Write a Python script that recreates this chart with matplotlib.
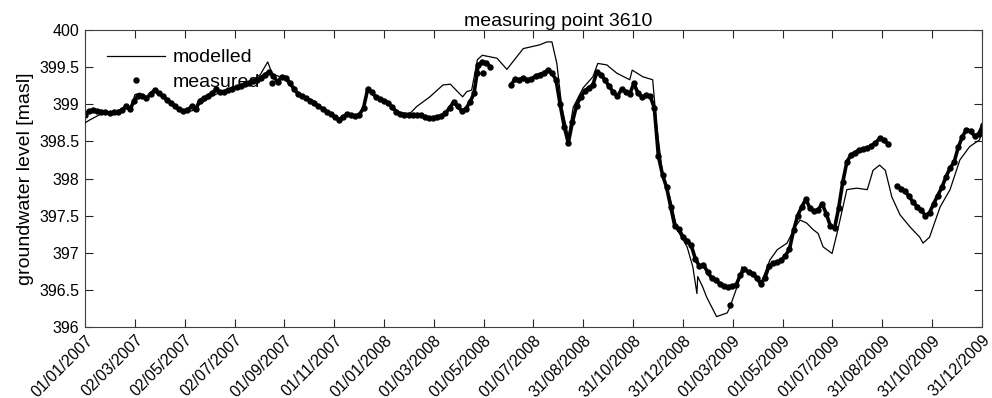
import numpy as np
import pandas as pd
import matplotlib
matplotlib.use('Agg')
import matplotlib.pyplot as plt
import matplotlib.dates as mdates
from matplotlib.transforms import ScaledTranslation

plt.rcParams['font.family'] = ['Liberation Sans', 'DejaVu Sans']

START = pd.Timestamp('2007-01-01')
END = pd.Timestamp('2009-12-31')

# modelled groundwater level (days after 01/01/2007, masl)
model_days = [0, 6, 18, 31, 43, 49, 55, 61, 67, 76, 83, 92, 104, 116, 125, 134, 140, 153,
              167, 183, 201, 214, 223, 229, 242, 259, 278, 299, 311, 320, 332, 339, 345,
              356, 369, 385, 397, 405, 421, 437, 446, 461, 466, 472, 479, 485, 503, 515,
              535, 555, 564, 570, 576, 582, 590, 596, 608, 620, 626, 637, 649, 665, 668,
              681, 693, 698, 706, 714, 723, 735, 742, 747, 748, 754, 759, 771, 784, 787,
              796, 802, 815, 826, 836, 845, 857, 867, 873, 881, 889, 895, 901, 912, 918,
              930, 942, 955, 962, 970, 977, 985, 995, 1007, 1019, 1023, 1031, 1044, 1056,
              1068, 1080, 1092, 1095]
model_level = [398.75, 398.79, 398.86, 398.88, 398.90, 398.95, 398.93, 399.13, 399.15, 399.08,
               399.18, 399.15, 399.03, 398.93, 398.90, 398.92, 399.00, 399.10, 399.17, 399.22,
               399.30, 399.40, 399.57, 399.40, 399.36, 399.15, 399.03, 398.88, 398.78, 398.86,
               398.84, 398.92, 399.22, 399.08, 399.02, 398.88, 398.88, 398.97, 399.10, 399.26,
               399.27, 399.10, 399.17, 399.19, 399.60, 399.66, 399.62, 399.47, 399.75, 399.80,
               399.84, 399.84, 399.55, 398.97, 398.56, 398.96, 399.22, 399.37, 399.55, 399.53,
               399.42, 399.33, 399.46, 399.37, 399.33, 398.70, 397.98, 397.75, 397.31, 397.08,
               396.81, 396.45, 396.68, 396.54, 396.40, 396.14, 396.19, 396.26, 396.54, 396.81,
               396.72, 396.61, 396.90, 397.04, 397.13, 397.35, 397.44, 397.40, 397.31, 397.26,
               397.08, 396.99, 397.26, 397.85, 397.87, 397.85, 398.11, 398.18, 398.11, 397.75,
               397.51, 397.35, 397.21, 397.13, 397.21, 397.62, 397.85, 398.25, 398.43, 398.52,
               398.65]

# measured groundwater level, sampled every 5 days, three periods with data
meas1_start = '2007-01-01'
meas1_level = [398.86, 398.91, 398.92, 398.91, 398.90, 398.89, 398.88, 398.89, 398.90, 398.92,
               398.97, 398.93, 399.05, 399.11, 399.11, 399.08, 399.14, 399.19, 399.15, 399.11,
               399.06, 399.02, 398.97, 398.93, 398.91, 398.92, 398.97, 398.93, 399.05, 399.08,
               399.11, 399.15, 399.20, 399.16, 399.17, 399.19, 399.21, 399.23, 399.25, 399.27,
               399.29, 399.31, 399.33, 399.36, 399.40, 399.44, 399.38, 399.30, 399.37, 399.36,
               399.29, 399.21, 399.14, 399.11, 399.08, 399.05, 399.02, 398.97, 398.94, 398.90,
               398.87, 398.83, 398.79, 398.83, 398.87, 398.85, 398.84, 398.86, 398.95, 399.20,
               399.16, 399.10, 399.07, 399.05, 399.02, 398.96, 398.90, 398.87, 398.86, 398.85,
               398.86, 398.86, 398.85, 398.83, 398.81, 398.82, 398.83, 398.84, 398.88, 398.95,
               399.03, 398.97, 398.91, 398.94, 399.03, 399.15, 399.53, 399.57, 399.56, 399.50]
meas2_start = '2008-06-04'
meas2_level = [399.26, 399.34, 399.33, 399.35, 399.33, 399.34, 399.38, 399.40, 399.42, 399.46,
               399.42, 399.33, 399.00, 398.70, 398.48, 398.76, 398.98, 399.10, 399.18, 399.22,
               399.26, 399.44, 399.40, 399.32, 399.24, 399.16, 399.11, 399.20, 399.17, 399.14,
               399.28, 399.15, 399.10, 399.12, 399.11, 398.95, 398.30, 398.05, 397.88, 397.62,
               397.36, 397.32, 397.21, 397.16, 397.10, 396.92, 396.82, 396.84, 396.74, 396.66,
               396.63, 396.58, 396.55, 396.54, 396.55, 396.57, 396.70, 396.78, 396.74, 396.72,
               396.66, 396.58, 396.66, 396.82, 396.86, 396.87, 396.90, 396.96, 397.05, 397.30,
               397.50, 397.62, 397.72, 397.60, 397.56, 397.58, 397.66, 397.52, 397.36, 397.33,
               397.60, 397.95, 398.22, 398.32, 398.35, 398.38, 398.40, 398.41, 398.44, 398.48,
               398.54, 398.52, 398.47]
meas3_start = '2009-09-18'
meas3_level = [397.90, 397.86, 397.83, 397.76, 397.68, 397.62, 397.57, 397.50, 397.54, 397.66,
               397.77, 397.88, 398.02, 398.14, 398.22, 398.42, 398.56, 398.66, 398.64, 398.57,
               398.60, 398.72]
# single readings
extra_days = [228, 478, 486, 787]
extra_level = [399.28, 399.42, 399.42, 396.30]

model_t = START + pd.to_timedelta(model_days, unit='D')
meas_t = []
meas_v = []
for st, lev in [(meas1_start, meas1_level), (meas2_start, meas2_level), (meas3_start, meas3_level)]:
    meas_t.append(pd.date_range(st, periods=len(lev), freq='5D'))
    meas_v.append(lev)
extra_t = START + pd.to_timedelta(extra_days, unit='D')

fig = plt.figure(figsize=(9.92, 3.98), dpi=100)
ax = fig.add_axes([0.0857, 0.1784, 0.9042, 0.7462])

fs = 14
ms = 4.6
ax.plot(model_t, model_level, color='black', lw=0.9, label='modelled', zorder=3)
for i in range(len(meas_t)):
    # daily readings: dense dots, joined so the trace reads as one band
    ax.plot(meas_t[i], meas_v[i], color='black', marker='o', ms=ms, mew=0, ls='-', lw=2.6,
            solid_capstyle='round', label='_nolegend_', zorder=2)
ax.plot(extra_t, extra_level, color='black', marker='o', ms=ms, mew=0, ls='none', zorder=2)
ax.plot([], [], color='black', marker='o', ms=ms, mew=0, ls='none', label='measured')

ax.set_xlim(START, END)
ax.set_ylim(396, 400)
ticks = np.linspace(mdates.date2num(START), mdates.date2num(END), 19)
ax.set_xticks(ticks)
ax.xaxis.set_major_formatter(mdates.DateFormatter('%d/%m/%Y'))
ax.set_yticks([396, 396.5, 397, 397.5, 398, 398.5, 399, 399.5, 400])
ax.set_yticklabels(['396', '396.5', '397', '397.5', '398', '398.5', '399', '399.5', '400'])
shift = ScaledTranslation(4 / 72, 0, fig.dpi_scale_trans)
for lab in ax.get_xticklabels():
    lab.set_rotation(45)
    lab.set_ha('right')
    lab.set_va('top')
    lab.set_rotation_mode('anchor')
    lab.set_transform(lab.get_transform() + shift)

ax.tick_params(axis='both', direction='in', length=6, width=0.8, color='#262626',
               labelsize=11.5, top=True, right=True, pad=4)
for sp in ax.spines.values():
    sp.set_color('#404040')
    sp.set_linewidth(0.8)

ax.set_title('measuring point 3610', fontsize=fs, pad=3, x=0.527)
ax.set_ylabel('groundwater level [masl]', fontsize=fs, labelpad=4)

ax.legend(loc='upper left', bbox_to_anchor=(0.0245, 0.937), frameon=False, fontsize=fs,
          handlelength=3.0, handletextpad=0.4, borderpad=0, borderaxespad=0,
          labelspacing=0.35, markerscale=1.0)

plt.savefig('out.png', dpi=100)
